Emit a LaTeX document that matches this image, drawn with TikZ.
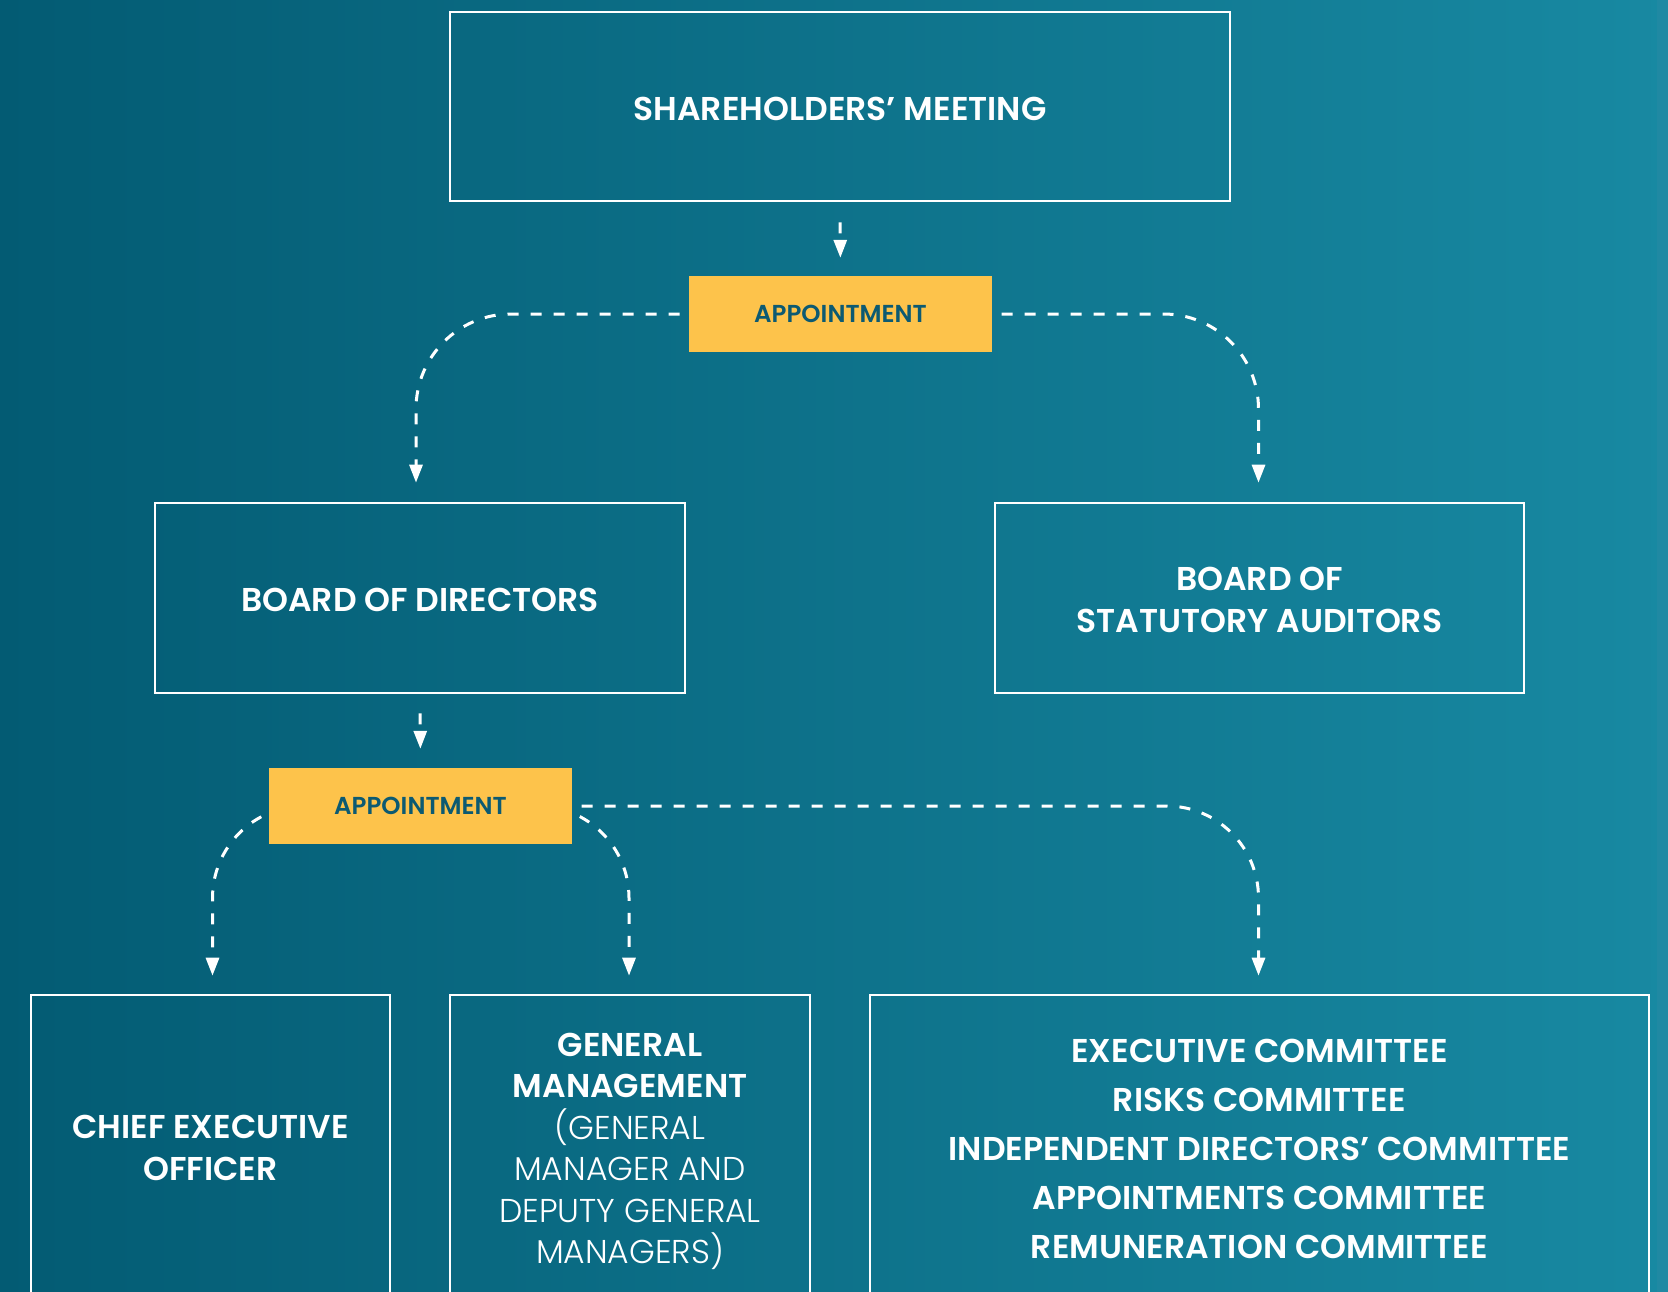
\documentclass[tikz,border=0pt]{standalone}
\usepackage{fontspec}
\setmainfont{Poppins}[BoldFont={Poppins SemiBold}]
\newfontfamily\lightfont{Poppins Light}
\usetikzlibrary{arrows.meta}
\definecolor{bgL}{HTML}{035B73}
\definecolor{bgR}{HTML}{1889A2}
\definecolor{bgS}{HTML}{2089A3}
\definecolor{gold}{HTML}{FDC34B}
\definecolor{ink}{HTML}{0C5A72}
\pgfdeclarelayer{bg}
\pgfdeclarelayer{lines}
\pgfsetlayers{bg,lines,main}
\newcommand\lt{\mdseries\lightfont}
\begin{document}
\begin{tikzpicture}[x=1pt,y=-1pt,
  box/.style={draw=white, line width=2.6pt, inner sep=0pt, align=center, text=white,
    font=\bfseries\fontsize{33}{42}\selectfont},
  appt/.style={fill=gold, inner sep=0pt, minimum width=303pt, minimum height=76pt,
    text=ink, font=\bfseries\fontsize{24.5}{28}\selectfont},
  conn/.style={draw=white, line width=3pt, dash pattern=on 11pt off 12pt,
    -{Triangle[length=18pt,width=13pt]}},
]
\useasboundingbox (0,0) rectangle (1668,1292);
\begin{pgfonlayer}{bg}
  \shade[left color=bgL, right color=bgR] (0,0) rectangle (1668,1292);
  \fill[bgS] (1657,0) rectangle (1668,1292);
\end{pgfonlayer}
\clip (0,0) rectangle (1668,1292);

\node[box, minimum width=780pt, minimum height=189pt] (sh) at (840,106.5) {};
\node[font=\bfseries\fontsize{33}{42}\selectfont, text=white, text depth=0pt] (sht) at (840,108.5) {SHAREHOLDERS’ MEETING};
\node[appt] (a1) at (840.5,314) {APPOINTMENT};
\node[box, minimum width=530pt, minimum height=190pt] (bod) at (420,598) {};
\node[font=\bfseries\fontsize{33}{42}\selectfont, text=white, text depth=0pt] (bodt) at (420,600) {BOARD OF DIRECTORS};
\node[box, minimum width=529pt, minimum height=190pt] (bsa) at (1259.5,598) {};
\node[align=center, font=\bfseries\fontsize{33}{42}\selectfont, text=white] (bsat) at (1259.5,600) {BOARD OF\\STATUTORY AUDITORS};
\node[appt] (a2) at (420.5,806) {APPOINTMENT};
\node[box, minimum width=359pt, minimum height=305pt] (ceo) at (210.5,1147.5) {CHIEF EXECUTIVE\\OFFICER};
\node[box, minimum width=360pt, minimum height=305pt] (gm) at (630,1147.5) {};
\node[align=center, text=white, font=\bfseries\fontsize{33}{41.5}\selectfont] (gmt) at (630,1151.5)
  {GENERAL\\MANAGEMENT\\\lt(GENERAL\\\lt MANAGER AND\\\lt DEPUTY GENERAL\\\lt MANAGERS)};
\node[box, minimum width=779pt, minimum height=305pt] (com) at (1259.5,1147.5) {};
\node[align=center, text=white, font=\bfseries\fontsize{33}{49}\selectfont] (comt) at (1259.5,1148.5)
  {EXECUTIVE COMMITTEE\\RISKS COMMITTEE\\INDEPENDENT DIRECTORS’ COMMITTEE\\APPOINTMENTS COMMITTEE\\REMUNERATION COMMITTEE};

\begin{pgfonlayer}{lines}
  \draw[conn, shorten <=20pt, shorten >=18pt] (sh.south) -- (a1.north);
  \draw[conn, rounded corners=95pt, shorten >=19pt] (a1.center) -| ([xshift=-4pt]bod.north);
  \draw[conn, rounded corners=95pt, shorten >=19pt] (a1.center) -| ([xshift=-1pt]bsa.north);
  \draw[conn, shorten <=19pt, shorten >=19pt] (bod.south) -- (a2.north);
  \draw[conn, rounded corners=92pt, shorten >=18pt] (a2.center) -| ([xshift=2pt]ceo.north);
  \draw[conn, rounded corners=92pt, shorten >=18pt] (a2.center) -| ([xshift=-1pt]gm.north);
  \draw[conn, rounded corners=92pt, shorten >=18pt] (a2.center) -| ([xshift=-1pt]com.north);
\end{pgfonlayer}
\end{tikzpicture}
\end{document}
